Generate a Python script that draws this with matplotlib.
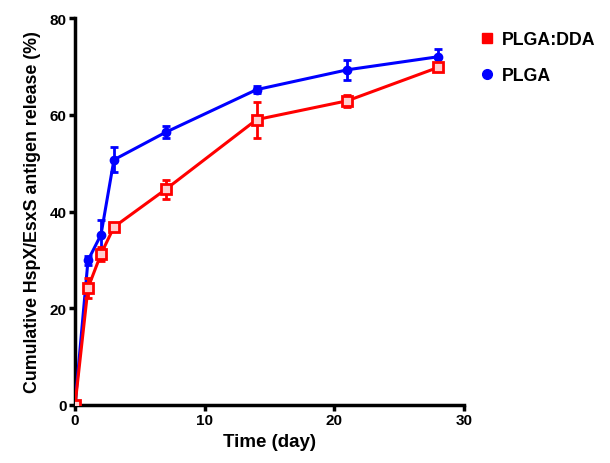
import matplotlib.pyplot as plt
from matplotlib.lines import Line2D

days = [0, 1, 2, 3, 7, 14, 21, 28]

dda_mean = [0, 24.2, 31.2, 36.8, 44.6, 59.0, 62.9, 69.8]
dda_err = [0.3, 2.0, 1.5, 0.6, 2.0, 3.7, 1.2, 0.6]

plga_mean = [0, 29.9, 35.2, 50.7, 56.4, 65.2, 69.3, 72.0]
plga_err = [0.3, 1.0, 3.0, 2.6, 1.2, 0.7, 2.1, 1.6]

plt.rcParams['font.family'] = ['Liberation Sans', 'DejaVu Sans']
plt.rcParams['font.weight'] = 'bold'

fig = plt.figure(figsize=(6.1, 4.64), dpi=100)
ax = fig.add_axes([0.123, 0.125, 0.638, 0.834])

ax.errorbar(days, plga_mean, yerr=plga_err, color='#0000ff', marker='o',
            markersize=6, linewidth=2.2, elinewidth=2, capsize=3, capthick=2,
            zorder=3)
ax.errorbar(days, dda_mean, yerr=dda_err, color='#ff0000', marker='s',
            markersize=7, markerfacecolor='#ffd0d0', markeredgewidth=2,
            linewidth=2.2, elinewidth=2, capsize=3, capthick=2,
            zorder=4)

ax.set_xlim(0, 30)
ax.set_ylim(0, 80)
ax.set_xticks([0, 10, 20, 30])
ax.set_yticks([0, 20, 40, 60, 80])
ax.spines['top'].set_visible(False)
ax.spines['right'].set_visible(False)
ax.spines['left'].set_linewidth(2.5)
ax.spines['bottom'].set_linewidth(2.5)
ax.tick_params(width=2.5, length=4, labelsize=11, direction='out', pad=2)
for lab in ax.get_xticklabels() + ax.get_yticklabels():
    lab.set_fontweight('bold')

ax.set_xlabel('Time (day)', fontsize=13.5, fontweight='bold', labelpad=4)
ax.set_ylabel('Cumulative HspX/EsxS antigen release (%)', fontsize=12.8,
              fontweight='bold', labelpad=6)

handles = [Line2D([], [], color='#ff0000', marker='s', linestyle='none', markersize=7),
           Line2D([], [], color='#0000ff', marker='o', linestyle='none', markersize=7)]
leg = fig.legend(handles, ['PLGA:DDA', 'PLGA'], loc='upper left',
                 bbox_to_anchor=(0.764, 0.965), frameon=False, fontsize=12.8,
                 handlelength=0.6, labelspacing=1.05, handletextpad=0.5)
for t in leg.get_texts():
    t.set_fontweight('bold')

fig.savefig('out.png', dpi=100)
